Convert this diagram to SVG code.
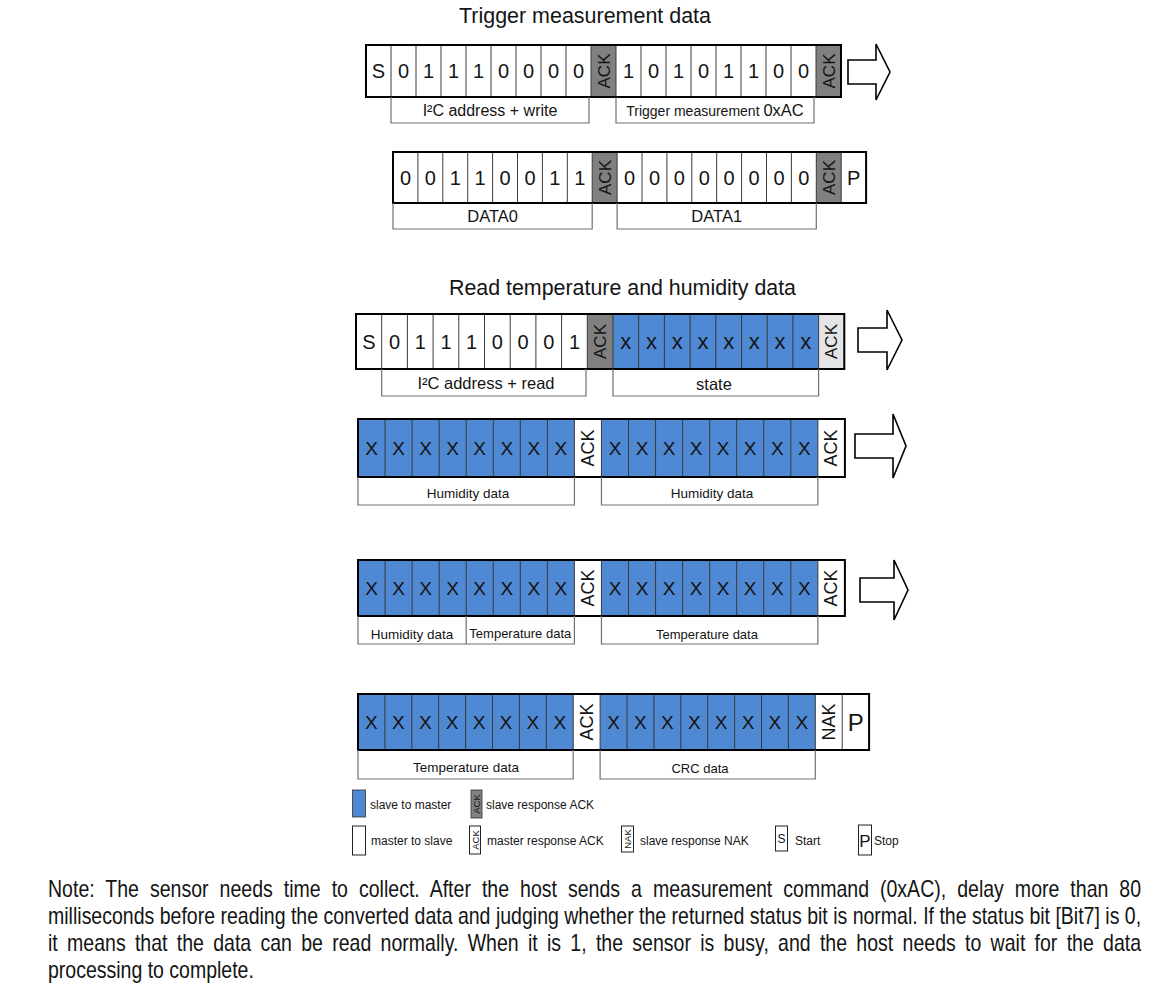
<svg xmlns="http://www.w3.org/2000/svg" width="1162" height="999" viewBox="0 0 1162 999">
<defs>
<style>
.t{font-family:"Liberation Sans",Arial,Helvetica,sans-serif;fill:#141414}
.bg{fill:#fff}
.blue{fill:#4f88d3}
.dk{fill:#808080}
.lt{fill:#e4e4e4}
.div{fill:none;stroke:#3a3a3a;stroke-width:1}
.frame{fill:none;stroke:#000;stroke-width:2}
.br{fill:none;stroke:#707070;stroke-width:1.2}
.bit{font-size:20px;text-anchor:middle}
.bx{font-size:19px;text-anchor:middle}
.ack{font-size:17px;text-anchor:middle}
.lbl{font-size:16.5px;text-anchor:middle}
.sl{font-size:13.5px;text-anchor:middle}
.lg{font-size:12px}
.arrow{fill:#fff;stroke:#000;stroke-width:1.6;stroke-linejoin:miter}
.box{fill:#fff;stroke:#222;stroke-width:1}
.ttl{font-size:22px;text-anchor:middle}
.note{font-size:23px}
</style>
</defs>
<rect width="1162" height="999" fill="#fff"/>

<text class="t ttl" x="585" y="23" textLength="252" lengthAdjust="spacingAndGlyphs">Trigger measurement data</text>

<g id="row1">
<rect class="bg" x="366" y="45" width="475" height="52"/>
<rect class="dk" x="591" y="45" width="25" height="52"/>
<rect class="dk" x="816" y="45" width="25" height="52"/>
<path class="div" d="M391 45V97M416 45V97M441 45V97M466 45V97M491 45V97M516 45V97M541 45V97M566 45V97M591 45V97M616 45V97M641 45V97M666 45V97M691 45V97M716 45V97M741 45V97M766 45V97M791 45V97M816 45V97"/>
<rect class="frame" x="366" y="45" width="475" height="52"/>
<g class="t bit">
<text x="378.5" y="78">S</text><text x="403.5" y="78">0</text><text x="428.5" y="78">1</text><text x="453.5" y="78">1</text><text x="478.5" y="78">1</text><text x="503.5" y="78">0</text><text x="528.5" y="78">0</text><text x="553.5" y="78">0</text><text x="578.5" y="78">0</text>
<text x="628.5" y="78">1</text><text x="653.5" y="78">0</text><text x="678.5" y="78">1</text><text x="703.5" y="78">0</text><text x="728.5" y="78">1</text><text x="753.5" y="78">1</text><text x="778.5" y="78">0</text><text x="803.5" y="78">0</text>
</g>
<text class="t ack" transform="translate(603.5,71) rotate(-90)" dy="6">ACK</text>
<text class="t ack" transform="translate(828.5,71) rotate(-90)" dy="6">ACK</text>
<path class="br" d="M391 97V123H589V97M616 97V123H814V97"/>
<text class="t lbl" x="490" y="116" style="font-size:16px">I²C address + write</text>
<text class="t" x="715" y="116" text-anchor="middle"><tspan font-size="14">Trigger measurement </tspan><tspan font-size="16.5">0xAC</tspan></text>
</g>

<g id="row2">
<rect class="bg" x="393" y="152" width="473.1" height="51"/>
<rect class="dk" x="592.2" y="152" width="24.9" height="51"/>
<rect class="dk" x="816.3" y="152" width="24.9" height="51"/>
<path class="div" d="M417.9 152V203M442.8 152V203M467.7 152V203M492.6 152V203M517.5 152V203M542.4 152V203M567.3 152V203M592.2 152V203M617.1 152V203M642 152V203M666.9 152V203M691.8 152V203M716.7 152V203M741.6 152V203M766.5 152V203M791.4 152V203M816.3 152V203M841.2 152V203"/>
<rect class="frame" x="393" y="152" width="473.1" height="51"/>
<g class="t bit">
<text x="405.45" y="184.5">0</text><text x="430.35" y="184.5">0</text><text x="455.25" y="184.5">1</text><text x="480.15" y="184.5">1</text><text x="505.05" y="184.5">0</text><text x="529.95" y="184.5">0</text><text x="554.85" y="184.5">1</text><text x="579.75" y="184.5">1</text>
<text x="629.55" y="184.5">0</text><text x="654.45" y="184.5">0</text><text x="679.35" y="184.5">0</text><text x="704.25" y="184.5">0</text><text x="729.15" y="184.5">0</text><text x="754.05" y="184.5">0</text><text x="778.95" y="184.5">0</text><text x="803.85" y="184.5">0</text>
<text x="853.65" y="184.5">P</text>
</g>
<text class="t ack" transform="translate(604.65,177.5) rotate(-90)" dy="6">ACK</text>
<text class="t ack" transform="translate(828.75,177.5) rotate(-90)" dy="6">ACK</text>
<path class="br" d="M393 203V229H592.2V203M617.1 203V229H816.3V203"/>
<text class="t lbl" x="492.6" y="222">DATA0</text>
<text class="t lbl" x="716.7" y="222">DATA1</text>
</g>

<text class="t ttl" x="622.5" y="295" textLength="347" lengthAdjust="spacingAndGlyphs">Read temperature and humidity data</text>

<g id="row3">
<rect class="bg" x="356" y="314" width="488.3" height="55"/>
<rect class="dk" x="587.3" y="314" width="25.7" height="55"/>
<rect class="blue" x="613" y="314" width="205.6" height="55"/>
<rect class="lt" x="818.6" y="314" width="25.7" height="55"/>
<path class="div" d="M381.7 314V369M407.4 314V369M433.1 314V369M458.8 314V369M484.5 314V369M510.2 314V369M535.9 314V369M561.6 314V369M587.3 314V369M613 314V369M638.7 314V369M664.4 314V369M690.1 314V369M715.8 314V369M741.5 314V369M767.2 314V369M792.9 314V369M818.6 314V369"/>
<rect class="frame" x="356" y="314" width="488.3" height="55"/>
<g class="t bit">
<text x="368.85" y="348.5">S</text><text x="394.55" y="348.5">0</text><text x="420.25" y="348.5">1</text><text x="445.95" y="348.5">1</text><text x="471.65" y="348.5">1</text><text x="497.35" y="348.5">0</text><text x="523.05" y="348.5">0</text><text x="548.75" y="348.5">0</text><text x="574.45" y="348.5">1</text>
</g>
<g class="t bit" style="font-size:22px">
<text x="625.85" y="348.5">x</text><text x="651.55" y="348.5">x</text><text x="677.25" y="348.5">x</text><text x="702.95" y="348.5">x</text><text x="728.65" y="348.5">x</text><text x="754.35" y="348.5">x</text><text x="780.05" y="348.5">x</text><text x="805.75" y="348.5">x</text>
</g>
<text class="t ack" transform="translate(600.15,341.5) rotate(-90)" dy="6">ACK</text>
<text class="t ack" transform="translate(831.45,341.5) rotate(-90)" dy="6">ACK</text>
<path class="br" d="M381.7 369V396H586V369M613 369V396H818.6V369"/>
<text class="t lbl" x="486" y="389">I²C address + read</text>
<text class="t lbl" x="714" y="390">state</text>
</g>

<g id="row4">
<rect class="bg" x="358" y="419" width="486.9" height="58"/>
<rect class="blue" x="358" y="419" width="216.4" height="58"/>
<rect class="blue" x="601.45" y="419" width="216.4" height="58"/>
<path class="div" d="M385.05 419V477M412.1 419V477M439.15 419V477M466.2 419V477M493.25 419V477M520.3 419V477M547.35 419V477M574.4 419V477M601.45 419V477M628.5 419V477M655.55 419V477M682.6 419V477M709.65 419V477M736.7 419V477M763.75 419V477M790.8 419V477M817.85 419V477"/>
<rect class="frame" x="358" y="419" width="486.9" height="58"/>
<g class="t bx">
<text x="371.5" y="455">X</text><text x="398.6" y="455">X</text><text x="425.6" y="455">X</text><text x="452.7" y="455">X</text><text x="479.7" y="455">X</text><text x="506.8" y="455">X</text><text x="533.8" y="455">X</text><text x="560.9" y="455">X</text>
<text x="615" y="455">X</text><text x="642" y="455">X</text><text x="669.1" y="455">X</text><text x="696.1" y="455">X</text><text x="723.2" y="455">X</text><text x="750.2" y="455">X</text><text x="777.3" y="455">X</text><text x="804.3" y="455">X</text>
</g>
<text class="t ack" transform="translate(587.9,448) rotate(-90)" dy="6" style="font-size:18px">ACK</text>
<text class="t ack" transform="translate(831.4,448) rotate(-90)" dy="6" style="font-size:18px">ACK</text>
<path class="br" d="M358 477V505H574.4V477M601.45 477V505H817.85V477"/>
<text class="t sl" x="468" y="498">Humidity data</text>
<text class="t sl" x="712" y="498">Humidity data</text>
</g>

<g id="row5">
<rect class="bg" x="358" y="560" width="486.9" height="56"/>
<rect class="blue" x="358" y="560" width="216.4" height="56"/>
<rect class="blue" x="601.45" y="560" width="216.4" height="56"/>
<path class="div" d="M385.05 560V616M412.1 560V616M439.15 560V616M466.2 560V616M493.25 560V616M520.3 560V616M547.35 560V616M574.4 560V616M601.45 560V616M628.5 560V616M655.55 560V616M682.6 560V616M709.65 560V616M736.7 560V616M763.75 560V616M790.8 560V616M817.85 560V616"/>
<rect class="frame" x="358" y="560" width="486.9" height="56"/>
<g class="t bx">
<text x="371.5" y="595">X</text><text x="398.6" y="595">X</text><text x="425.6" y="595">X</text><text x="452.7" y="595">X</text><text x="479.7" y="595">X</text><text x="506.8" y="595">X</text><text x="533.8" y="595">X</text><text x="560.9" y="595">X</text>
<text x="615" y="595">X</text><text x="642" y="595">X</text><text x="669.1" y="595">X</text><text x="696.1" y="595">X</text><text x="723.2" y="595">X</text><text x="750.2" y="595">X</text><text x="777.3" y="595">X</text><text x="804.3" y="595">X</text>
</g>
<text class="t ack" transform="translate(587.9,588) rotate(-90)" dy="6" style="font-size:18px">ACK</text>
<text class="t ack" transform="translate(831.4,588) rotate(-90)" dy="6" style="font-size:18px">ACK</text>
<path class="br" d="M358 616V644H574.4V616M466.2 616V644M601.45 616V644H817.85V616"/>
<text class="t sl" x="412" y="639">Humidity data</text>
<text class="t sl" x="520.3" y="638" style="font-size:13px">Temperature data</text>
<text class="t sl" x="707" y="639" style="font-size:13px">Temperature data</text>
</g>

<g id="row6">
<rect class="bg" x="358" y="694" width="511.1" height="56"/>
<rect class="blue" x="358" y="694" width="215.2" height="56"/>
<rect class="blue" x="600.1" y="694" width="215.2" height="56"/>
<path class="div" d="M384.9 694V750M411.8 694V750M438.7 694V750M465.6 694V750M492.5 694V750M519.4 694V750M546.3 694V750M573.2 694V750M600.1 694V750M627 694V750M653.9 694V750M680.8 694V750M707.7 694V750M734.6 694V750M761.5 694V750M788.4 694V750M815.3 694V750M842.2 694V750"/>
<rect class="frame" x="358" y="694" width="511.1" height="56"/>
<g class="t bx">
<text x="371.45" y="729">X</text><text x="398.35" y="729">X</text><text x="425.25" y="729">X</text><text x="452.15" y="729">X</text><text x="479.05" y="729">X</text><text x="505.95" y="729">X</text><text x="532.85" y="729">X</text><text x="559.75" y="729">X</text>
<text x="613.55" y="729">X</text><text x="640.45" y="729">X</text><text x="667.35" y="729">X</text><text x="694.25" y="729">X</text><text x="721.15" y="729">X</text><text x="748.05" y="729">X</text><text x="774.95" y="729">X</text><text x="801.85" y="729">X</text>
</g>
<text class="t bit" x="855.65" y="731" style="font-size:24px">P</text>
<text class="t ack" transform="translate(586.65,722) rotate(-90)" dy="6" style="font-size:18px">ACK</text>
<text class="t ack" transform="translate(828.75,722) rotate(-90)" dy="6" style="font-size:18px">NAK</text>
<path class="br" d="M358 750V779H573.2V750M600.1 750V779H815.3V750"/>
<text class="t sl" x="466" y="772">Temperature data</text>
<text class="t sl" x="700" y="773" style="font-size:13px">CRC data</text>
</g>

<g id="connectors">
<path class="arrow" d="M848 60H876V44L890 72L876 100V84H848Z"/>
<path class="arrow" d="M858 328H887V310L902 340L887 370V352H858Z"/>
<path class="arrow" d="M855 434H893V414L906 446L893 478V458H855Z"/>
<path class="arrow" d="M860 578H894V560L908 590L894 620V602H860Z"/>
</g>

<g id="legend">
<rect x="352.5" y="790" width="13" height="27" fill="#4f88d3" stroke="#333" stroke-width="0.8"/>
<text class="t lg" x="370" y="809">slave to master</text>
<rect x="471" y="790" width="11" height="28" fill="#808080" stroke="#333" stroke-width="0.8"/>
<text class="t" font-size="9.5" text-anchor="middle" transform="translate(476.5,804) rotate(-90)" dy="3.5">ACK</text>
<text class="t lg" x="486" y="809">slave response ACK</text>
<rect class="box" x="352.5" y="826" width="13" height="29"/>
<text class="t lg" x="371" y="845">master to slave</text>
<rect class="box" x="469.5" y="826" width="11" height="28"/>
<text class="t" font-size="9.5" text-anchor="middle" transform="translate(475,840) rotate(-90)" dy="3.5">ACK</text>
<text class="t lg" x="487" y="845">master response ACK</text>
<rect class="box" x="621.5" y="826" width="12" height="26"/>
<text class="t" font-size="9.5" text-anchor="middle" transform="translate(627.5,839) rotate(-90)" dy="3.5">NAK</text>
<text class="t lg" x="640" y="845">slave response NAK</text>
<rect class="box" x="775.5" y="826" width="12" height="25"/>
<text class="t" font-size="12" text-anchor="middle" x="781.5" y="843">S</text>
<text class="t lg" x="795" y="845">Start</text>
<rect class="box" x="858.5" y="825" width="13" height="30"/>
<text class="t" font-size="17" text-anchor="middle" x="865" y="847">P</text>
<text class="t lg" x="874" y="845">Stop</text>
</g>

<g id="note" transform="translate(48,0) scale(0.848,1)">
<text class="t note" x="0" y="897" word-spacing="6.56" textLength="1289" lengthAdjust="spacing">Note: The sensor needs time to collect. After the host sends a measurement command (0xAC), delay more than 80</text>
<text class="t note" x="0" y="924" textLength="1289" lengthAdjust="spacing">milliseconds before reading the converted data and judging whether the returned status bit is normal. If the status bit [Bit7] is 0,</text>
<text class="t note" x="0" y="951" word-spacing="4.46" textLength="1289" lengthAdjust="spacing">it means that the data can be read normally. When it is 1, the sensor is busy, and the host needs to wait for the data</text>
<text class="t note" x="0" y="978">processing to complete.</text>
</g>
</svg>
